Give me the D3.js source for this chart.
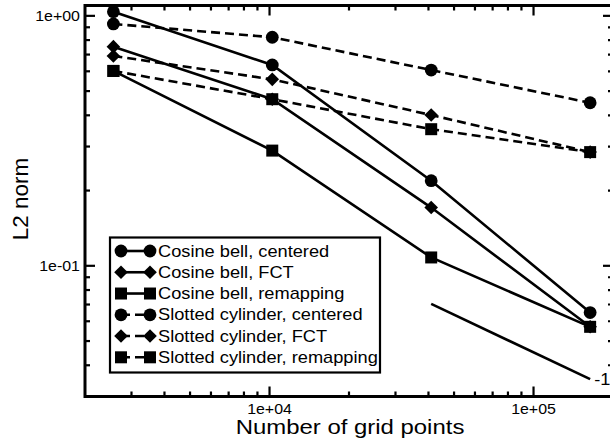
<!DOCTYPE html>
<html>
<head>
<meta charset="utf-8">
<script src="https://cdn.jsdelivr.net/npm/d3@7"></script>
<style>
  html, body { margin: 0; padding: 0; background: #fff; }
  svg { display: block; }
  text { font-family: "Liberation Sans", Arial, Helvetica, sans-serif; fill: #000; }
</style>
</head>
<body>
<svg id="chart" width="610" height="444"></svg>
<script>
// Grid sizes of the icosahedral meshes
const gridPoints = [2562, 10242, 40962, 163842];

// L2 error norms per test case and scheme
const cosineCentered  = [1.039, 0.636, 0.219, 0.065];
const cosineFCT       = [0.753, 0.464, 0.171, 0.057];
const cosineRemap     = [0.602, 0.289, 0.108, 0.057];
const slottedCentered = [0.928, 0.821, 0.607, 0.449];
const slottedFCT      = [0.691, 0.557, 0.401, 0.285];
const slottedRemap    = [0.602, 0.464, 0.352, 0.285];

const seriesNames = [
  "Cosine bell, centered", "Cosine bell, FCT", "Cosine bell, remapping",
  "Slotted cylinder, centered", "Slotted cylinder, FCT", "Slotted cylinder, remapping"
];

// Reference slope line (first-order convergence)
const slopeGrid = [40962, 163842];
const slopeNorm = [0.0704, 0.0352];
const slopeLabel = "-1";

// Axis extents and labelled decades
const xDomain = [2000, 200000];
const yDomain = [0.03, 1.1];
const xMajor = [1e4, 1e5];
const xTickLabels = ["1e+04", "1e+05"];
const yMajor = [0.1, 1];
const yTickLabels = ["1e-01", "1e+00"];
const xTitle = "Number of grid points";
const yTitle = "L2 norm";

const series = [
  { name: seriesNames[0], values: cosineCentered,  shape: "circle",  dashed: false },
  { name: seriesNames[1], values: cosineFCT,       shape: "diamond", dashed: false },
  { name: seriesNames[2], values: cosineRemap,     shape: "square",  dashed: false },
  { name: seriesNames[3], values: slottedCentered, shape: "circle",  dashed: true },
  { name: seriesNames[4], values: slottedFCT,      shape: "diamond", dashed: true },
  { name: seriesNames[5], values: slottedRemap,    shape: "square",  dashed: true }
];

const SX = 1.14; // horizontal text stretch
const svg = d3.select("#chart");

const plotLeft = 85, plotRight = 613, plotTop = 5.5, plotBottom = 396.5;
const x = d3.scaleLog().domain(xDomain).range([plotLeft, plotRight]);
const y = d3.scaleLog().domain(yDomain).range([plotBottom, plotTop]);

const symbolOf = {
  circle: d3.symbol().type(d3.symbolCircle).size(Math.PI * 6.4 * 6.4),
  square: d3.symbol().type(d3.symbolSquare).size(12 * 12)
};

function drawMarker(g, shape, cx, cy) {
  if (shape === "diamond") {
    const s = 6.8;
    g.append("path")
      .attr("d", `M${cx},${cy - s}L${cx + s},${cy}L${cx},${cy + s}L${cx - s},${cy}Z`)
      .attr("fill", "#000");
  } else {
    g.append("path")
      .attr("d", symbolOf[shape]())
      .attr("transform", `translate(${cx},${cy})`)
      .attr("fill", "#000");
  }
}

function stretchedText(g, str, px, py, size, anchor) {
  return g.append("text")
    .attr("transform", `translate(${px},${py}) scale(${SX},1)`)
    .attr("font-size", size)
    .attr("text-anchor", anchor || "start")
    .text(str);
}

const DASH = "9,5";

// Data lines
const line = d3.line().x(d => x(d[0])).y(d => y(d[1]));
const plot = svg.append("g");
series.forEach(s => {
  const pts = gridPoints.map((n, i) => [n, s.values[i]]);
  plot.append("path")
    .attr("d", line(pts))
    .attr("fill", "none")
    .attr("stroke", "#000")
    .attr("stroke-width", 2.6)
    .attr("stroke-dasharray", s.dashed ? DASH : null);
});
series.forEach(s => {
  gridPoints.forEach((n, i) => drawMarker(plot, s.shape, x(n), y(s.values[i])));
});

// Slope reference
plot.append("path")
  .attr("d", line(slopeGrid.map((n, i) => [n, slopeNorm[i]])))
  .attr("fill", "none").attr("stroke", "#000").attr("stroke-width", 2.6);
stretchedText(svg, slopeLabel, x(slopeGrid[1]) + 4, y(slopeNorm[1]) + 6, 16, "start");

// Frame
svg.append("rect")
  .attr("x", plotLeft).attr("y", plotTop)
  .attr("width", plotRight - plotLeft).attr("height", plotBottom - plotTop)
  .attr("fill", "none").attr("stroke", "#000").attr("stroke-width", 3);

// Ticks, all pointing inward
const isMajor = (v, majors) => majors.some(m => Math.abs(v / m - 1) < 1e-6);
const ticks = svg.append("g").attr("stroke", "#000").attr("stroke-width", 2.2);
x.ticks().forEach(v => {
  const len = isMajor(v, xMajor) ? 10 : 5;
  const px = x(v);
  if (px <= plotLeft + 1 || px >= plotRight - 1) return;
  ticks.append("line").attr("x1", px).attr("x2", px).attr("y1", plotBottom).attr("y2", plotBottom - len);
  ticks.append("line").attr("x1", px).attr("x2", px).attr("y1", plotTop).attr("y2", plotTop + len);
});
y.ticks().forEach(v => {
  const len = isMajor(v, yMajor) ? 10 : 5;
  const py = y(v);
  if (py <= plotTop + 1 || py >= plotBottom - 1) return;
  ticks.append("line").attr("x1", plotLeft).attr("x2", plotLeft + len).attr("y1", py).attr("y2", py);
  ticks.append("line").attr("x1", plotRight).attr("x2", plotRight - len).attr("y1", py).attr("y2", py);
});

// Tick labels
xMajor.forEach((v, i) => stretchedText(svg, xTickLabels[i], x(v), 414, 14, "middle"));
yMajor.forEach((v, i) => stretchedText(svg, yTickLabels[i], 80, y(v) + 5, 14, "end"));

// Axis titles
stretchedText(svg, xTitle, 350, 434, 21, "middle");
svg.append("text")
  .attr("transform", `translate(28,199) rotate(-90)`)
  .attr("font-size", 22.5)
  .attr("text-anchor", "middle")
  .text(yTitle);

// Legend
const legend = svg.append("g");
legend.append("rect")
  .attr("x", 110).attr("y", 237.5).attr("width", 270).attr("height", 135)
  .attr("fill", "#fff").attr("stroke", "#000").attr("stroke-width", 2.2);
series.forEach((s, i) => {
  const cy = 251 + i * 21.26;
  legend.append("line")
    .attr("x1", 121).attr("x2", 150).attr("y1", cy).attr("y2", cy)
    .attr("stroke", "#000").attr("stroke-width", 2.6)
    .attr("stroke-dasharray", s.dashed ? DASH : null);
  drawMarker(legend, s.shape, 121, cy);
  drawMarker(legend, s.shape, 150, cy);
  stretchedText(legend, s.name, 158, cy + 5.7, 16, "start");
});
</script>
</body>
</html>
